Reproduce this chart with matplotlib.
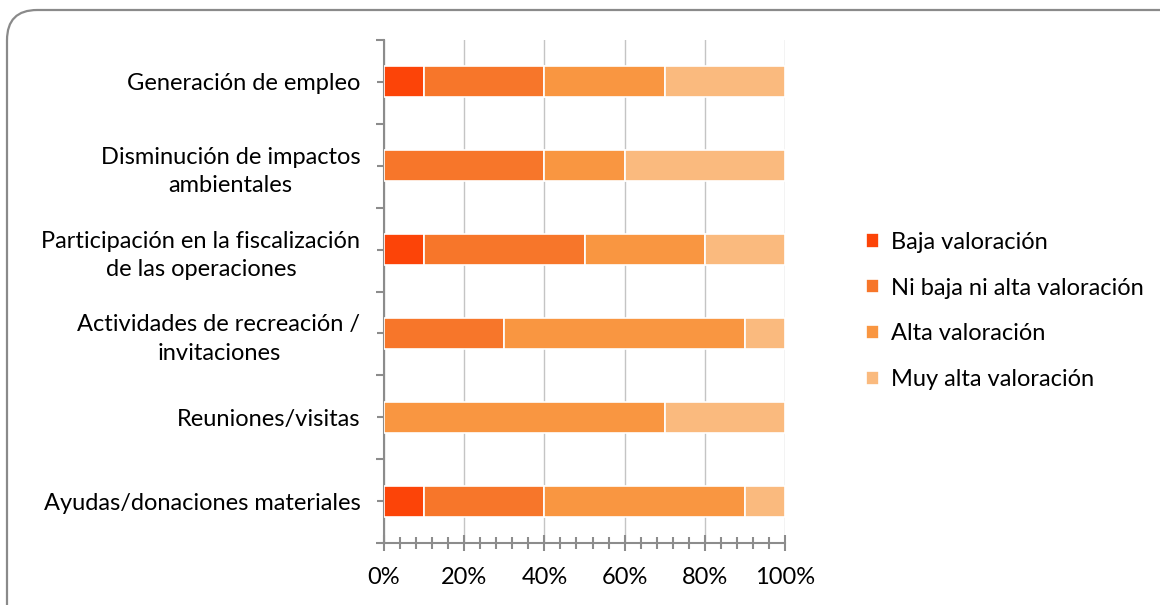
import numpy as np
import matplotlib
matplotlib.use("Agg")
import matplotlib.pyplot as plt
from matplotlib.patches import FancyBboxPatch
from matplotlib.ticker import FixedLocator

plt.rcParams['font.family'] = ['Lato', 'DejaVu Sans']

categorias = ["Generación de empleo",
              "Disminución de impactos\nambientales",
              "Participación en la fiscalización\nde las operaciones",
              "Actividades de recreación /\ninvitaciones",
              "Reuniones/visitas",
              "Ayudas/donaciones materiales"]
series = ["Baja valoración", "Ni baja ni alta valoración",
          "Alta valoración", "Muy alta valoración"]
baja = [10, 0, 10, 0, 0, 10]
ni_baja_ni_alta = [30, 40, 40, 30, 0, 30]
alta = [30, 20, 30, 60, 70, 50]
muy_alta = [30, 40, 20, 10, 30, 10]
xticks = [0, 20, 40, 60, 80, 100]
colores = ["#FC4408", "#F7762A", "#F99641", "#FABA7E"]

fig = plt.figure(figsize=(11.6, 6.05), dpi=100)
ax = fig.add_axes([384/1160, 62/605, 401/1160, 503/605])

# marco redondeado
marco = FancyBboxPatch((7/1160, -40/605), 1200/1160, 635/605,
                       boxstyle="round,pad=0,rounding_size=0.026",
                       transform=fig.transFigure, fill=False,
                       edgecolor="#8a8a8a", linewidth=1.6, clip_on=False,
                       mutation_aspect=1160/605)
fig.patches.append(marco)

y = np.arange(len(categorias))
izq = np.zeros(len(categorias))
for vals, nombre, c in zip([baja, ni_baja_ni_alta, alta, muy_alta], series, colores):
    ax.barh(y, vals, left=izq, height=0.37, color=c, edgecolor="white",
            linewidth=1.2, label=nombre, zorder=3)
    izq += np.array(vals)

ax.set_ylim(len(categorias) - 0.5, -0.5)
ax.set_xlim(0, 100)

ax.set_yticks(y)
ax.set_yticklabels(categorias, fontsize=17, ha="right", multialignment="center",
                   linespacing=1.45)
ax.yaxis.set_minor_locator(FixedLocator(np.arange(-0.5, len(categorias), 1)))
ax.tick_params(axis="y", which="major", direction="inout", length=10,
               width=1.5, color="#8c8c8c", pad=12)
ax.tick_params(axis="y", which="minor", direction="out", length=6,
               width=1.5, color="#8c8c8c")

ax.set_xticks(xticks)
ax.set_xticklabels([f"{v}%" for v in xticks], fontsize=17)
ax.xaxis.set_minor_locator(FixedLocator(np.arange(0, 101, 4)))
ax.tick_params(axis="x", which="major", direction="inout", length=12,
               width=1.5, color="#8c8c8c", pad=11)
ax.tick_params(axis="x", which="minor", direction="inout", length=9,
               width=1.5, color="#8c8c8c")

ax.grid(axis="x", which="major", color="#c4c4c4", linewidth=1, zorder=0)
for s in ["top", "right"]:
    ax.spines[s].set_visible(False)
for s in ["left", "bottom"]:
    ax.spines[s].set_color("#8c8c8c")
    ax.spines[s].set_linewidth(1.5)

fig.legend(loc="center left", bbox_to_anchor=(845/1160, 1 - 311/605),
           frameon=False, fontsize=17, handlelength=0.55, handleheight=0.55,
           handletextpad=0.5, labelspacing=1.05)

fig.savefig("out.png", dpi=100)
